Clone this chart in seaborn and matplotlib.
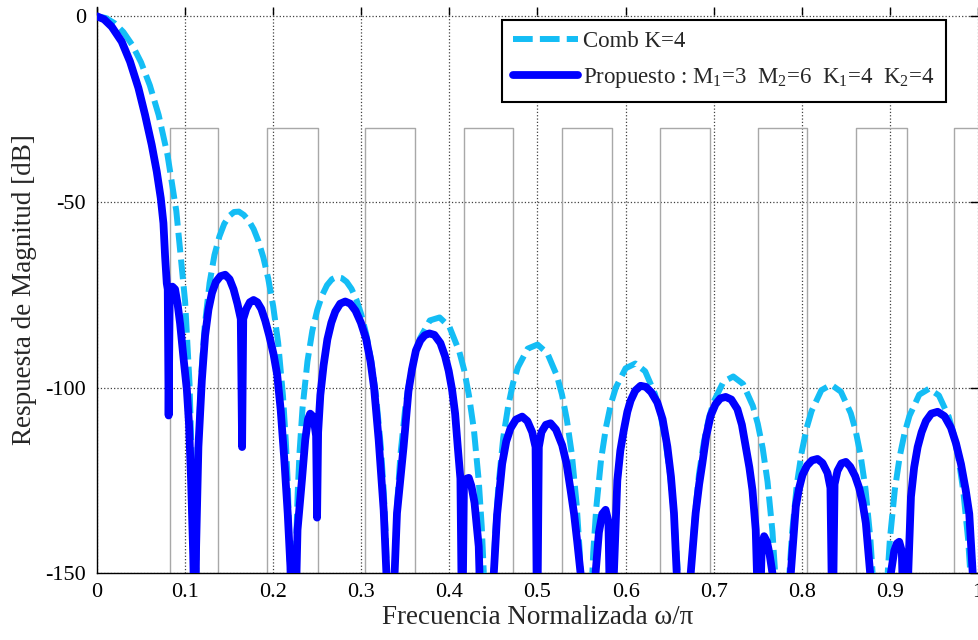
import matplotlib
matplotlib.use("Agg")
import matplotlib.pyplot as plt
import seaborn as sns

sns.set_style("white")
plt.rcParams['font.family'] = ['Liberation Serif', 'DejaVu Serif']
plt.rcParams['mathtext.fontset'] = 'custom'
plt.rcParams['mathtext.rm'] = 'Liberation Serif'
plt.rcParams['mathtext.it'] = 'Liberation Serif:italic'
plt.rcParams['axes.unicode_minus'] = False

# ---------- data ----------
# Comb K=4 (dashed), normalised frequency / magnitude in dB
comb_freq = [
    0.0, 0.01, 0.02, 0.03, 0.04, 0.05, 0.06, 0.07, 0.08, 0.09, 0.1, 0.105, 0.108, 0.1111,
    0.1122, 0.1133, 0.1144, 0.1167, 0.1189, 0.1222, 0.1278, 0.1333, 0.1389, 0.1444, 0.15,
    0.1556, 0.1611, 0.1667, 0.1722, 0.1778, 0.1833, 0.1889, 0.1944, 0.2, 0.2056, 0.2111,
    0.2144, 0.2167, 0.22, 0.2222,
    0.2244, 0.2256, 0.2278, 0.23, 0.2333, 0.2389, 0.2444, 0.25, 0.2556, 0.2611, 0.2667,
    0.2722, 0.2778, 0.2833, 0.2889, 0.2944, 0.3, 0.3056, 0.3111, 0.3167, 0.3222, 0.3256,
    0.3278, 0.3311, 0.3333,
    0.3356, 0.3367, 0.3389, 0.3411, 0.3444, 0.35, 0.3556, 0.3611, 0.3667, 0.3778, 0.3889,
    0.4, 0.4111, 0.4167, 0.4222, 0.4278, 0.4333, 0.4367, 0.4389, 0.4422, 0.4444,
    0.4478, 0.45, 0.4522, 0.4556, 0.4611, 0.4667, 0.4722, 0.4778, 0.4889, 0.5, 0.5111,
    0.5222, 0.5278, 0.5333, 0.5389, 0.5444, 0.5478, 0.55, 0.5556,
    0.5611, 0.5633, 0.5667, 0.5722, 0.5778, 0.5833, 0.5889, 0.6, 0.6111, 0.6222, 0.6333,
    0.6389, 0.6444, 0.65, 0.6556, 0.6589, 0.6611, 0.6667,
    0.6722, 0.6744, 0.6778, 0.6833, 0.6889, 0.6944, 0.7, 0.7111, 0.7222, 0.7333, 0.7444,
    0.75, 0.7556, 0.7611, 0.7667, 0.77, 0.7722, 0.7778,
    0.7833, 0.7856, 0.7889, 0.7944, 0.8, 0.8056, 0.8111, 0.8222, 0.8333, 0.8444, 0.8556,
    0.8611, 0.8667, 0.8722, 0.8778, 0.8811, 0.8833, 0.8889,
    0.8944, 0.8967, 0.9, 0.9056, 0.9111, 0.9167, 0.9222, 0.9333, 0.9444, 0.9556, 0.9667,
    0.9722, 0.9778, 0.9833, 0.9889, 0.9922, 0.9944, 1.0,
]
comb_db = [
    0, -0.46, -1.87, -4.26, -7.73, -12.4, -18.6, -26.6, -37.3, -52.4, -76.8, -98.8, -123, -175,
    -160, -136.4, -122.6, -105.6, -94.6, -83.6, -71.8, -64.3, -59.3, -55.9, -53.8,
    -52.7, -52.6, -53.5, -55.0, -57.3, -60.6, -65.0, -70.7, -78.1, -87.9, -102.2,
    -114.8, -126.7, -158.9, -175,
    -159.6, -145.7, -128.4, -117.1, -105.5, -92.9, -84.7, -79.1, -75.1, -72.4, -70.8,
    -70.2, -70.5, -71.5, -73.4, -76.3, -80.3, -85.6, -92.6, -102.1, -116.0, -128.5,
    -140.3, -172, -175,
    -172.7, -158.7, -141.3, -129.9, -118.1, -105.2, -96.8, -90.9, -86.7, -81.9, -81.1,
    -83.6, -90.2, -95.2, -102.1, -111.3, -125.1, -137.4, -149.2, -181, -185,
    -167.4, -149.9, -138.5, -126.6, -113.5, -105.0, -98.8, -94.5, -89.5, -88.4, -90.7,
    -96.9, -101.9, -108.6, -117.8, -131.4, -143.7, -155.4, -185,
    -155.9, -144.4, -132.4, -119.3, -110.6, -104.4, -100.0, -94.8, -93.5, -95.6, -101.7,
    -106.5, -113.2, -122.3, -135.9, -148.1, -159.8, -185,
    -160.1, -148.5, -136.6, -123.3, -114.6, -108.3, -103.8, -98.4, -97.0, -99.0, -104.9,
    -109.7, -116.3, -125.3, -138.8, -151.0, -162.6, -185,
    -162.9, -151.3, -139.3, -126.0, -117.2, -110.8, -106.3, -100.7, -99.2, -101.1, -106.9,
    -111.6, -118.2, -127.1, -140.6, -152.7, -164.4, -185,
    -164.4, -152.9, -140.8, -127.5, -118.6, -112.2, -107.6, -101.9, -100.3, -102.1, -107.8,
    -112.4, -118.9, -127.8, -141.2, -153.3, -164.9, -185,
]

# Propuesto (solid)
prop_freq = [
    0.0, 0.008, 0.0167, 0.028, 0.0375, 0.047, 0.0545, 0.0621, 0.0678, 0.0724, 0.0754,
    0.0773, 0.0792, 0.0803, 0.0813, 0.0826, 0.0856, 0.0886, 0.0915, 0.0943, 0.098, 0.102,
    0.1045, 0.1068, 0.1092, 0.1112,
    0.1125, 0.1151, 0.119, 0.1227, 0.1265, 0.1305, 0.135, 0.14, 0.1455, 0.1505, 0.155,
    0.1595, 0.1632, 0.1647, 0.166, 0.1695, 0.1735, 0.1777, 0.182, 0.1865, 0.191, 0.1955,
    0.2004, 0.2045, 0.2085, 0.2125, 0.2165, 0.2195, 0.2225,
    0.2245, 0.2276, 0.2326, 0.2364, 0.2395, 0.242, 0.2445, 0.2468, 0.2487, 0.2498, 0.251,
    0.2535, 0.2572, 0.2615, 0.266, 0.2705, 0.276, 0.2818, 0.2875, 0.2935, 0.2995, 0.3055,
    0.3105, 0.3145, 0.3197, 0.3254, 0.3285, 0.331,
    0.3345, 0.3405, 0.348, 0.3535, 0.3576, 0.362, 0.367, 0.372, 0.3773, 0.383, 0.3898,
    0.395, 0.3992, 0.403, 0.4065, 0.4095, 0.4125, 0.4145, 0.4165, 0.4195, 0.422, 0.425,
    0.4285, 0.4333, 0.4365,
    0.4475, 0.4504, 0.4542, 0.4599, 0.4645, 0.4693, 0.4755, 0.4826, 0.4885, 0.494, 0.4978,
    0.4996, 0.5015, 0.5045, 0.5095, 0.5148, 0.521, 0.528, 0.533, 0.5375, 0.5415, 0.5451,
    0.5489, 0.551,
    0.5635, 0.5659, 0.5697, 0.5735, 0.5773, 0.5805, 0.583, 0.5867, 0.5906, 0.594, 0.598,
    0.602, 0.6057, 0.611, 0.617, 0.623, 0.629, 0.636, 0.642, 0.6474, 0.6515, 0.6549,
    0.658, 0.6605,
    0.671, 0.6739, 0.6795, 0.6835, 0.6871, 0.6915, 0.6966, 0.702, 0.7075, 0.7136, 0.72,
    0.7269, 0.732, 0.7364, 0.7405, 0.744, 0.7477, 0.7515, 0.7545, 0.7572, 0.7605, 0.7635,
    0.7667, 0.769,
    0.785, 0.7875, 0.7932, 0.797, 0.8008, 0.806, 0.8115, 0.8178, 0.8235, 0.8292, 0.8325,
    0.8349, 0.8372, 0.8405, 0.845, 0.85, 0.855, 0.8605, 0.8651, 0.869, 0.8727, 0.8776, 0.88,
    0.8985, 0.9011, 0.9049, 0.9078, 0.9106, 0.9135, 0.9163, 0.9208, 0.9239, 0.9275, 0.9315,
    0.936, 0.9409, 0.947, 0.9542, 0.962, 0.9693, 0.975, 0.9807, 0.986, 0.9901, 0.994,
    0.997, 1.0,
]
prop_db = [
    0, -0.8, -2.8, -6.8, -12.2, -19.3, -26.5, -34.6, -41.8, -49, -55.7,
    -64.7, -71.9, -73.5, -107.5, -74, -72.8, -73.5, -77.5, -82.7, -91.6, -100.6,
    -110, -125, -145, -170,
    -143, -116, -98, -86, -79, -74.5, -71.5, -70, -69.6, -70.8, -73.5,
    -77.5, -81.5, -116, -81.5, -78.8, -77, -76.4, -77, -78.8, -82, -86,
    -91, -96.5, -106, -119, -134, -148, -170,
    -170, -138.3, -124.9, -114, -108.5, -107, -107.6, -109.8, -113, -135, -112,
    -102, -94, -87, -82.5, -79.5, -77.4, -76.8, -77.4, -79.3, -82.5, -86.9,
    -93, -100, -114, -133, -150, -170,
    -170, -133.8, -115.9, -101, -95, -90, -87.3, -85.9, -85.4, -85.8, -88,
    -91.5, -95.5, -100.5, -107, -116, -124.5, -170, -126.5, -124.5, -124.3, -126.5,
    -131, -142.8, -170,
    -170, -150, -134, -120.5, -114.5, -111, -108.6, -107.8, -109, -112, -116,
    -170, -116, -112, -110, -109.6, -111.3, -115.5, -120.5, -127.5, -134, -141.5,
    -150, -170,
    -170, -150, -139, -134, -132.9, -136, -170, -150, -125, -117, -111.4,
    -106.5, -103.5, -100.8, -99.5, -99.8, -101.2, -104, -108.5, -115.9, -124, -133.8,
    -150, -170,
    -170, -150, -133.8, -126, -120.4, -113, -107.5, -104.5, -102.9, -102.5, -103.2,
    -105.8, -110, -115.9, -121.5, -127.6, -138.3, -170, -143, -140, -141.5, -145,
    -150, -170,
    -170, -150, -132, -127, -123.5, -121, -119.6, -119.2, -120.3, -123, -127,
    -170, -126, -122.4, -120.4, -120, -121.3, -123.8, -127, -131, -136.5, -150, -170,
    -170, -150, -144, -142, -141.5, -144, -170, -150, -129.4, -121.5, -116,
    -112, -109, -107, -106.5, -107.7, -110.8, -115, -120.6, -127.5, -134, -150,
    -170, -170,
]

# gray spec mask: stop bands (left / right edges) and level in dB
mask_left = [0.083, 0.1935, 0.3042, 0.417, 0.528, 0.639, 0.750, 0.862, 0.973]
mask_right = [0.1375, 0.2503, 0.361, 0.472, 0.584, 0.696, 0.806, 0.919, 1.03]
mask_level = -30
mask_floor = -150

x_ticks = [0, 0.1, 0.2, 0.3, 0.4, 0.5, 0.6, 0.7, 0.8, 0.9, 1.0]
x_labels = ['0', '0.1', '0.2', '0.3', '0.4', '0.5', '0.6', '0.7', '0.8', '0.9', '1']
y_ticks = [-150, -100, -50, 0]
y_labels = ['-150', '-100', '-50', '0']

label_comb = 'Comb K=4'
label_prop = 'Propuesto : M$_1$=3  M$_2$=6  K$_1$=4  K$_2$=4'

# ---------- plot ----------
fig = plt.figure(figsize=(9.79, 6.40), dpi=100)
ax = fig.add_axes([97 / 979, 66.7 / 640, 881 / 979, 566.5 / 640])

for l, r in zip(mask_left, mask_right):
    ax.plot([l, l, r, r], [mask_floor, mask_level, mask_level, mask_floor],
            color='#a8a8a8', lw=1.0, zorder=1.5)

sns.lineplot(x=comb_freq, y=comb_db, ax=ax, color='#14bdf5', lw=4.3,
             estimator=None, sort=False, label=label_comb, zorder=3)
ax.lines[-1].set_dashes([3.3, 1.2])
sns.lineplot(x=prop_freq, y=prop_db, ax=ax, color='#0000ff', lw=5.6,
             estimator=None, sort=False, label=label_prop, zorder=4)

ax.set_xlim(0, 1)
ax.set_ylim(-150, 2.56)
ax.set_xticks(x_ticks)
ax.set_xticklabels(x_labels)
ax.set_yticks(y_ticks)
ax.set_yticklabels(y_labels)
ax.grid(True, linestyle=':', color='#404040', linewidth=0.9)
ax.tick_params(direction='in', length=6, width=1, top=True, right=True,
               labelsize=16, colors='black')
ax.tick_params(axis='x', pad=7)
ax.tick_params(axis='y', pad=8)
for s in ['top', 'right']:
    ax.spines[s].set_visible(False)
for s in ['left', 'bottom']:
    ax.spines[s].set_color('black')
    ax.spines[s].set_linewidth(1.0)

ax.set_xlabel('Frecuencia Normalizada ω/π', fontsize=19.5, labelpad=2)
ax.set_ylabel('Respuesta de Magnitud [dB]', fontsize=19.5, labelpad=6)

handles, labels = ax.get_legend_handles_labels()
leg = ax.legend(handles, labels, loc='upper right', bbox_to_anchor=(0.964, 0.977),
                fontsize=16.5, frameon=True, fancybox=False, edgecolor='black',
                framealpha=1, handlelength=2.8, handletextpad=0.26, borderpad=0.5,
                labelspacing=0.6, borderaxespad=0)
leg.get_frame().set_linewidth(1.5)

fig.savefig('out.png', dpi=100)
